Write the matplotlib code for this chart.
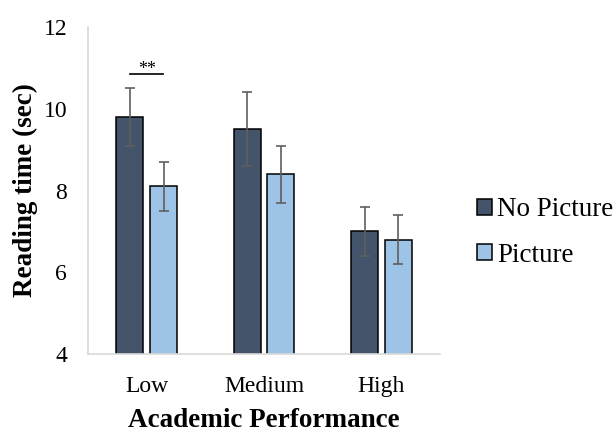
import matplotlib
matplotlib.use("Agg")
import matplotlib.pyplot as plt
import numpy as np

categories = ["Low", "Medium", "High"]
no_picture = [9.8, 9.5, 7.0]
no_picture_err = [0.7, 0.9, 0.6]
picture = [8.1, 8.4, 6.8]
picture_err = [0.6, 0.7, 0.6]
series_names = ["No Picture", "Picture"]

plt.rcParams['font.family'] = ['Liberation Serif', 'DejaVu Serif']

fig = plt.figure(figsize=(6.13, 4.34), dpi=100)
ax = fig.add_axes([0.1436, 0.1843, 0.5745, 0.7535])

x = np.arange(len(categories))
w = 0.229
off = 0.143
ekw = dict(ecolor="#5f5f5f", elinewidth=1.2, capsize=3.6, capthick=1.2)
ax.bar(x - off, no_picture, w, color="#44546A", edgecolor="black",
       linewidth=1.1, yerr=no_picture_err, error_kw=ekw, label=series_names[0])
ax.bar(x + off, picture, w, color="#9DC3E6", edgecolor="black",
       linewidth=1.1, yerr=picture_err, error_kw=ekw, label=series_names[1])

ax.set_ylim(4, 12)
ax.set_xlim(-0.5, 2.5)
ax.set_yticks([4, 6, 8, 10, 12])
ax.set_xticks(x)
ax.set_xticklabels(categories)
ax.tick_params(length=0, labelsize=17, colors="#000000")
ax.tick_params(axis='y', pad=15)
ax.tick_params(axis='x', pad=16)
for s in ["top", "right"]:
    ax.spines[s].set_visible(False)
for s in ["left", "bottom"]:
    ax.spines[s].set_color("#D9D9D9")
    ax.spines[s].set_linewidth(1.2)

ax.set_ylabel("Reading time (sec)", fontsize=19.5, fontweight="bold", labelpad=4)
ax.set_xlabel("Academic Performance", fontsize=19.5, fontweight="bold", labelpad=8)

# significance marker
ax.plot([x[0] - 0.144, x[0] + 0.136], [10.85, 10.85], color="black", lw=1.2)
ax.text(x[0], 10.75, "**", ha="center", va="bottom", fontsize=13)

leg = ax.legend(loc="center left", bbox_to_anchor=(1.105, 0.3716), frameon=False,
                fontsize=19.5, handlelength=0.55, handleheight=0.55,
                handletextpad=0.2, labelspacing=0.75, borderpad=0, borderaxespad=0)

fig.savefig("out.png", dpi=100)
